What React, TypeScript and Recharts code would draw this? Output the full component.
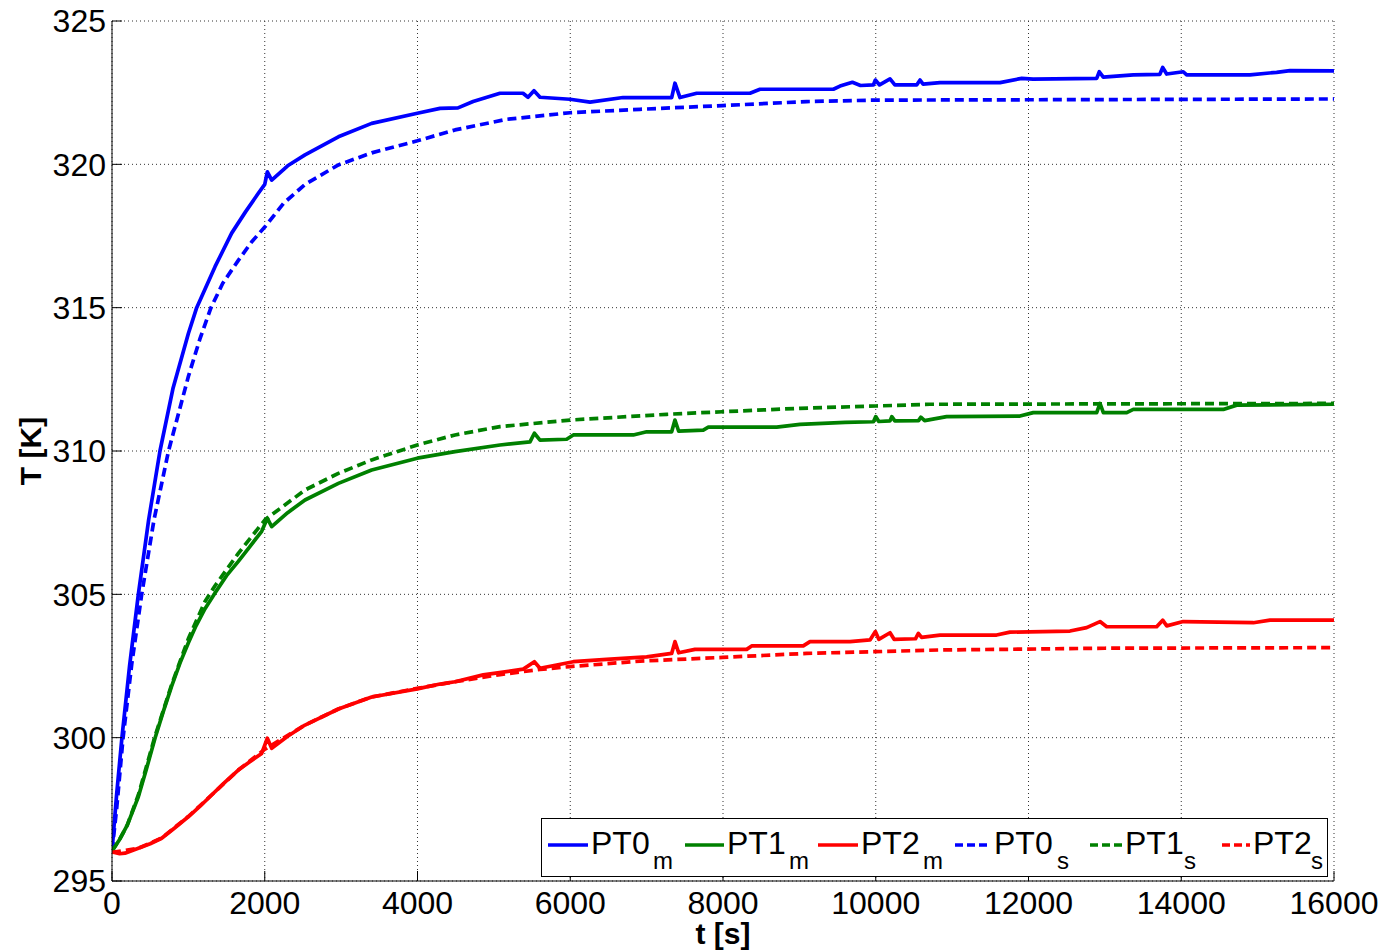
import { LineChart, Line, XAxis, YAxis, CartesianGrid, Legend, Label } from "recharts";

// measured (m) and simulated (s) temperatures, t in seconds, T in kelvin
const pt0mTime = [0, 60, 130, 230, 345, 480, 628, 800, 1000, 1109, 1349, 1567, 1750, 1916, 2000, 2034, 2091, 2300, 2527, 2964, 3400, 3998, 4295, 4530, 4728, 5080, 5381, 5447, 5525, 5604, 5997, 6259, 6691, 7328, 7371, 7437, 7655, 8353, 8484, 9445, 9532, 9694, 9800, 9969, 9995, 10050, 10187, 10250, 10536, 10580, 10620, 10841, 11627, 11911, 12060, 12893, 12927, 12979, 13372, 13720, 13757, 13809, 14026, 14071, 14900, 15249, 15424, 16000];
const pt0mTemp = [296.05, 298.0, 300.0, 302.5, 305.0, 307.6, 310.0, 312.2, 314.1, 315.0, 316.43, 317.6, 318.35, 318.99, 319.3, 319.74, 319.45, 319.95, 320.33, 320.96, 321.43, 321.78, 321.95, 321.97, 322.19, 322.48, 322.48, 322.34, 322.57, 322.34, 322.27, 322.17, 322.33, 322.33, 322.83, 322.33, 322.48, 322.48, 322.62, 322.62, 322.73, 322.86, 322.75, 322.77, 322.94, 322.77, 322.98, 322.77, 322.77, 322.94, 322.8, 322.85, 322.85, 323.0, 322.97, 323.0, 323.23, 323.04, 323.12, 323.14, 323.38, 323.15, 323.23, 323.12, 323.12, 323.21, 323.27, 323.26];

const pt1mTime = [0, 100, 200, 345, 450, 563, 670, 781, 890, 999, 1100, 1218, 1349, 1500, 1654, 1800, 1960, 2034, 2091, 2300, 2527, 2964, 3400, 3998, 4491, 5080, 5473, 5530, 5604, 5953, 6040, 6826, 7000, 7328, 7371, 7420, 7742, 7808, 8703, 9008, 9600, 9970, 10000, 10040, 10187, 10210, 10250, 10560, 10590, 10640, 10928, 11888, 12063, 12893, 12936, 12980, 13286, 13372, 14551, 14726, 16000];
const pt1mTemp = [296.05, 296.45, 296.95, 297.94, 298.9, 299.98, 300.9, 301.8, 302.6, 303.3, 303.9, 304.5, 305.05, 305.65, 306.15, 306.65, 307.2, 307.65, 307.36, 307.85, 308.29, 308.87, 309.34, 309.75, 309.98, 310.21, 310.32, 310.62, 310.38, 310.41, 310.56, 310.56, 310.67, 310.67, 311.08, 310.69, 310.73, 310.83, 310.83, 310.93, 311.0, 311.02, 311.2, 311.03, 311.05, 311.2, 311.05, 311.06, 311.18, 311.06, 311.2, 311.22, 311.34, 311.34, 311.66, 311.34, 311.34, 311.45, 311.45, 311.6, 311.63];

const pt2mTime = [0, 100, 170, 345, 500, 650, 820, 999, 1150, 1304, 1480, 1654, 1800, 1960, 2034, 2091, 2300, 2527, 2964, 3400, 3998, 4295, 4491, 4860, 5385, 5530, 5604, 6040, 6476, 7000, 7328, 7371, 7420, 7633, 8310, 8375, 9051, 9139, 9663, 9925, 9995, 10040, 10187, 10240, 10520, 10558, 10600, 10841, 11582, 11757, 12543, 12761, 12936, 13024, 13678, 13757, 13810, 14026, 14944, 15162, 16000];
const pt2mTemp = [296.02, 295.95, 295.97, 296.14, 296.3, 296.49, 296.85, 297.24, 297.6, 298.0, 298.45, 298.87, 299.15, 299.45, 299.98, 299.63, 300.05, 300.44, 301.0, 301.42, 301.7, 301.87, 301.95, 302.19, 302.39, 302.65, 302.42, 302.65, 302.73, 302.82, 302.94, 303.35, 302.96, 303.08, 303.08, 303.2, 303.2, 303.35, 303.35, 303.41, 303.7, 303.43, 303.66, 303.43, 303.45, 303.64, 303.5, 303.58, 303.58, 303.68, 303.72, 303.84, 304.05, 303.87, 303.87, 304.1, 303.9, 304.05, 304.01, 304.1, 304.1];

const pt0sTime = [0, 60, 145, 260, 389, 550, 740, 1000, 1150, 1296, 1450, 1654, 1830, 2003, 2250, 2527, 2964, 3400, 3998, 4491, 5168, 5997, 6913, 7995, 9094, 9995, 11627, 16000];
const pt0sTemp = [296.05, 297.5, 300.0, 302.6, 305.0, 307.6, 310.0, 312.6, 313.9, 315.0, 315.85, 316.65, 317.3, 317.82, 318.65, 319.3, 319.98, 320.4, 320.82, 321.2, 321.57, 321.8, 321.92, 322.05, 322.19, 322.24, 322.25, 322.28];

const pt1sTime = [0, 100, 200, 345, 563, 781, 999, 1218, 1349, 1654, 2003, 2527, 2964, 3400, 3998, 4491, 5080, 5997, 7263, 7995, 9008, 10000, 10710, 16000];
const pt1sTemp = [296.05, 296.45, 296.95, 298.0, 300.05, 301.85, 303.45, 304.75, 305.3, 306.43, 307.6, 308.64, 309.22, 309.69, 310.21, 310.56, 310.85, 311.08, 311.28, 311.37, 311.49, 311.57, 311.63, 311.66];

const pt2sTime = [0, 345, 650, 999, 1304, 1654, 2003, 2527, 2964, 3400, 3998, 4491, 5080, 5604, 5997, 6913, 7995, 9094, 9995, 10841, 11627, 13000, 16000];
const pt2sTemp = [296.0, 296.14, 296.5, 297.25, 298.0, 298.87, 299.6, 300.44, 301.0, 301.42, 301.72, 301.95, 302.2, 302.38, 302.48, 302.67, 302.8, 302.94, 303.0, 303.06, 303.08, 303.12, 303.14];

const xTicks = [0, 2000, 4000, 6000, 8000, 10000, 12000, 14000, 16000];
const yTicks = [295, 300, 305, 310, 315, 320, 325];

const zip = (ts: number[], vs: number[]) => ts.map((t, i) => ({ t, T: vs[i] }));

const series = [
    { name: "PT0", sub: "m", color: "#0000ff", dashed: false, data: zip(pt0mTime, pt0mTemp) },
    { name: "PT1", sub: "m", color: "#008000", dashed: false, data: zip(pt1mTime, pt1mTemp) },
    { name: "PT2", sub: "m", color: "#ff0000", dashed: false, data: zip(pt2mTime, pt2mTemp) },
    { name: "PT0", sub: "s", color: "#0000ff", dashed: true, data: zip(pt0sTime, pt0sTemp) },
    { name: "PT1", sub: "s", color: "#008000", dashed: true, data: zip(pt1sTime, pt1sTemp) },
    { name: "PT2", sub: "s", color: "#ff0000", dashed: true, data: zip(pt2sTime, pt2sTemp) },
];

const FONT = "'Liberation Sans', Arial, Helvetica, sans-serif";
const DASH = "9 5";

// legend layout, relative to the legend box
const legendLine = [[7, 47], [144, 183], [277, 317], [414, 449], [549, 581], [681, 709]];
const legendText = [50, 186, 320, 453, 584, 712];
const legendSub = [112, 248, 382, 516, 643, 770];

function MatlabLegend() {
    return (
        <svg width={787} height={59} style={{ display: "block", fontFamily: FONT }}>
            <rect x={0.5} y={0.5} width={786} height={58} fill="#fff" stroke="#000" strokeWidth={1} />
            {series.map((s, i) => (
                <g key={i}>
                    <line
                        x1={legendLine[i][0]}
                        x2={legendLine[i][1]}
                        y1={27}
                        y2={27}
                        stroke={s.color}
                        strokeWidth={3.5}
                        strokeDasharray={s.dashed ? "8 4" : undefined}
                    />
                    <text x={legendText[i]} y={36} fontSize={32} fill="#000">
                        {s.name}
                    </text>
                    <text x={legendSub[i]} y={51} fontSize={24} fill="#000">
                        {s.sub}
                    </text>
                </g>
            ))}
        </svg>
    );
}

export default function App() {
    return (
        <LineChart
            width={1385}
            height={942}
            margin={{ top: 13, right: 59, bottom: 0, left: 4 }}
            style={{ fontFamily: FONT }}
        >
            <CartesianGrid stroke="#333" strokeDasharray="1 3" strokeWidth={1} />
            <XAxis
                dataKey="t"
                type="number"
                domain={[0, 16000]}
                ticks={xTicks}
                allowDataOverflow
                height={69}
                stroke="#000"
                tickSize={-10}
                tickMargin={20}
                tick={{ fill: "#000", fontSize: 32 }}
                interval={0}
            >
                <Label
                    content={(props: any) => {
                        const vb = props.viewBox || {};
                        return (
                            <text
                                x={vb.x + vb.width / 2}
                                y={vb.y + 63}
                                textAnchor="middle"
                                fontSize={30}
                                fontWeight="bold"
                                fill="#000"
                            >
                                t [s]
                            </text>
                        );
                    }}
                />
            </XAxis>
            <XAxis
                xAxisId="top"
                orientation="top"
                type="number"
                domain={[0, 16000]}
                ticks={xTicks}
                height={0}
                stroke="#000"
                tickSize={-10}
                tick={false}
                interval={0}
            />
            <YAxis
                type="number"
                domain={[295, 325]}
                ticks={yTicks}
                allowDataOverflow
                width={100}
                stroke="#000"
                tickSize={-10}
                tickMargin={16}
                tick={{ fill: "#000", fontSize: 32 }}
                interval={0}
            >
                <Label
                    content={(props: any) => {
                        const vb = props.viewBox || {};
                        const x = vb.x + 29;
                        const y = vb.y + vb.height / 2;
                        return (
                            <text
                                x={x}
                                y={y}
                                transform={`rotate(-90, ${x}, ${y})`}
                                textAnchor="middle"
                                fontSize={30}
                                fontWeight="bold"
                                fill="#000"
                            >
                                T [K]
                            </text>
                        );
                    }}
                />
            </YAxis>
            <YAxis
                yAxisId="right"
                orientation="right"
                type="number"
                domain={[295, 325]}
                ticks={yTicks}
                width={0}
                stroke="#000"
                tickSize={-10}
                tick={false}
                interval={0}
            />
            {series.map((s, i) => (
                <Line
                    key={i}
                    data={s.data}
                    dataKey="T"
                    type="linear"
                    stroke={s.color}
                    strokeWidth={3.7}
                    strokeDasharray={s.dashed ? DASH : undefined}
                    strokeLinejoin="round"
                    dot={false}
                    activeDot={false}
                    isAnimationActive={false}
                    legendType="none"
                />
            ))}
            <Legend
                layout="horizontal"
                align="center"
                verticalAlign="middle"
                content={() => <MatlabLegend />}
                wrapperStyle={{ left: 533, top: 810, width: 787, height: 59 }}
            />
        </LineChart>
    );
}
